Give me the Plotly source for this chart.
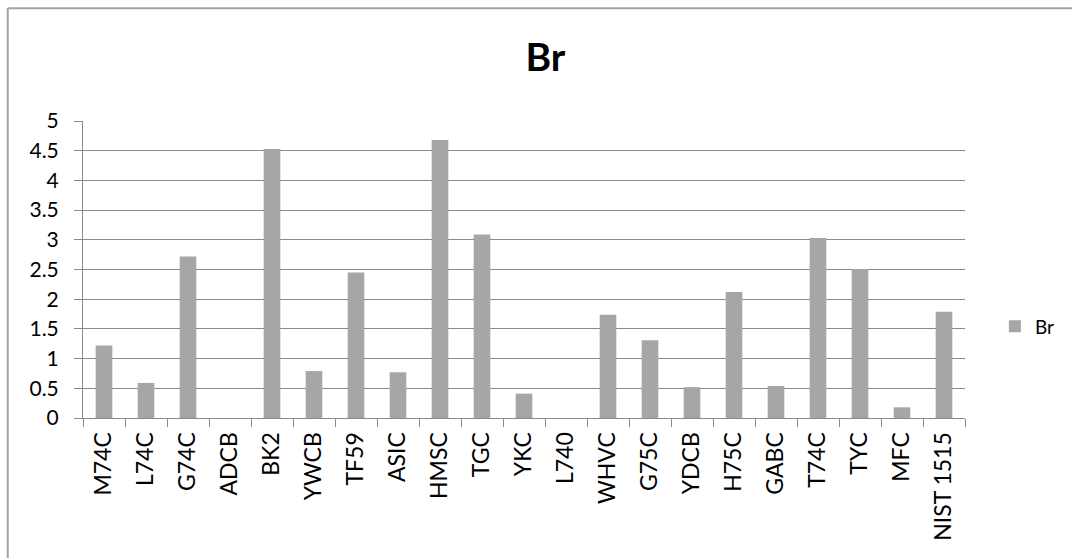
import plotly.graph_objects as go

samples = ["M74C", "L74C", "G74C", "ADCB", "BK2", "YWCB", "TF59", "ASIC", "HMSC", "TGC",
           "YKC", "L740", "WHVC", "G75C", "YDCB", "H75C", "GABC", "T74C", "TYC", "MFC",
           "NIST 1515"]
br_values = [1.22, 0.59, 2.72, 0, 4.53, 0.79, 2.45, 0.77, 4.68, 3.09,
             0.41, 0, 1.74, 1.31, 0.52, 2.12, 0.54, 3.03, 2.51, 0.18,
             1.79]
y_ticks = [0, 0.5, 1, 1.5, 2, 2.5, 3, 3.5, 4, 4.5, 5]

W, H = 1072, 558
L, R, T, B = 83, 104, 121, 140
pw, ph = W - L - R, H - T - B

FONT = "Lato, 'Open Sans', sans-serif"
GRID = "#8a8a8a"

fig = go.Figure()
fig.add_trace(go.Bar(
    x=samples, y=br_values, name="Br",
    marker=dict(color="#a6a6a6", line=dict(width=0)),
))


def px_x(px):
    return (px - L) / pw


def px_y(py):
    return 1 - (py - T) / ph


# outer chart frame (top and left edges visible)
frame = dict(color="#a3a3a3", width=2)
fig.add_shape(type="line", xref="paper", yref="paper",
              x0=px_x(7.5), x1=px_x(W + 5), y0=px_y(8.3), y1=px_y(8.3), line=frame)
fig.add_shape(type="line", xref="paper", yref="paper",
              x0=px_x(7.5), x1=px_x(7.5), y0=px_y(8.3), y1=px_y(H + 5), line=frame)

fig.update_layout(
    width=W, height=H,
    margin=dict(l=L, r=R, t=T, b=B),
    paper_bgcolor="white", plot_bgcolor="white",
    bargap=0.604,
    font=dict(family=FONT, size=19, color="black"),
    title=dict(text="<b>Br</b>", font=dict(family=FONT, size=39, color="black"),
               xref="container", yref="container", x=545.5 / W, y=1 - 57.5 / H,
               xanchor="center", yanchor="middle"),
    showlegend=True,
    legend=dict(x=px_x(998), y=px_y(326.5), xanchor="left", yanchor="middle",
                font=dict(family=FONT, size=19, color="black"),
                itemwidth=30, bgcolor="rgba(0,0,0,0)"),
    xaxis=dict(
        type="category", tickangle=-90, tickson="boundaries",
        ticks="outside", ticklen=8, tickcolor=GRID, tickwidth=1,
        showline=True, linecolor=GRID, linewidth=1,
        showgrid=False, tickfont=dict(family=FONT, size=23, color="black"),
        ticklabelstandoff=4,
    ),
    yaxis=dict(
        range=[0, 5], tickvals=y_ticks, ticktext=[f"{v:g}" for v in y_ticks],
        ticks="outside", ticklen=8, tickcolor=GRID, tickwidth=1,
        showline=True, linecolor=GRID, linewidth=1,
        showgrid=True, gridcolor=GRID, gridwidth=1, zeroline=False,
        tickfont=dict(family=FONT, size=21, color="black"),
        ticklabelstandoff=11,
    ),
)

fig.write_html("out.html")
